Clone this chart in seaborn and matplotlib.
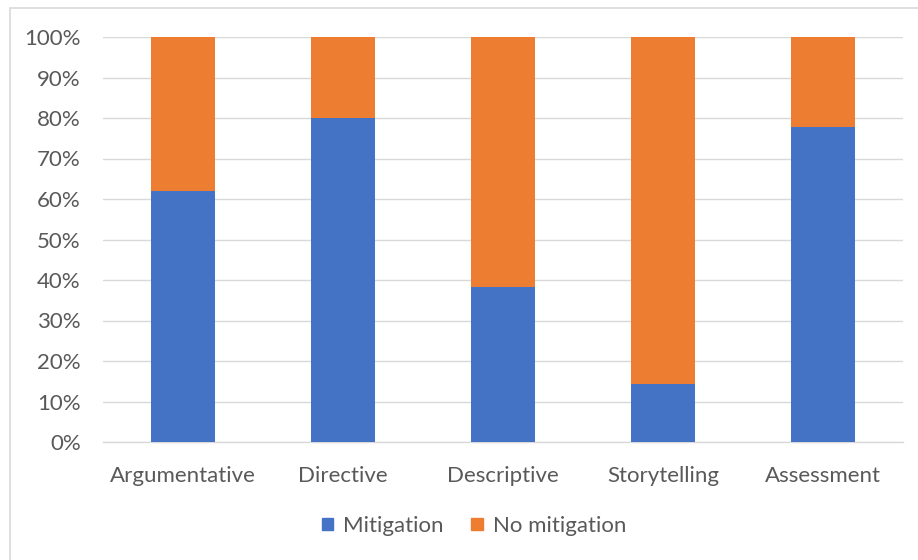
import matplotlib
matplotlib.use("Agg")
import matplotlib.pyplot as plt
import matplotlib.patches as mpatches
import seaborn as sns
import pandas as pd

categories = ["Argumentative", "Directive", "Descriptive", "Storytelling", "Assessment"]
mitigation = [61.9, 80.0, 38.3, 14.3, 77.8]
no_mitigation = [100 - v for v in mitigation]
y_ticks = list(range(0, 101, 10))
y_tick_labels = [f"{t}%" for t in y_ticks]

BLUE = "#4472C4"
ORANGE = "#ED7D31"
TEXT = "#595959"
GRID = "#D9D9D9"

sns.set_theme(style="white")
plt.rcParams["font.family"] = ["Lato", "DejaVu Sans"]
FS = 16

df = pd.DataFrame({"category": categories, "Mitigation": mitigation,
                   "Total": [m + n for m, n in zip(mitigation, no_mitigation)]})

fig = plt.figure(figsize=(9.18, 5.6), dpi=100)
ax = fig.add_axes([103 / 918, 1 - 442 / 560, 800 / 918, 405 / 560])

# Stacked bars: draw the full height in orange, then the mitigation share in blue
sns.barplot(data=df, x="category", y="Total", color=ORANGE, width=0.4,
            saturation=1, ax=ax, zorder=3, linewidth=0)
sns.barplot(data=df, x="category", y="Mitigation", color=BLUE, width=0.4,
            saturation=1, ax=ax, zorder=3, linewidth=0)

ax.set_ylim(0, 100)
ax.set_xlim(-0.5, len(categories) - 0.5)
ax.set_yticks(y_ticks)
ax.set_yticklabels(y_tick_labels)
ax.yaxis.grid(True, color=GRID, linewidth=1, zorder=0)
ax.set_axisbelow(True)
for side in ["top", "right", "left"]:
    ax.spines[side].set_visible(False)
ax.spines["bottom"].set_color(GRID)
ax.spines["bottom"].set_linewidth(1)
ax.set_xlabel("")
ax.set_ylabel("")
ax.tick_params(axis="both", length=0, labelsize=FS, colors=TEXT)
ax.tick_params(axis="x", pad=17)
ax.tick_params(axis="y", pad=16)

handles = [mpatches.Patch(color=BLUE, label="Mitigation"),
           mpatches.Patch(color=ORANGE, label="No mitigation")]
leg = fig.legend(handles=handles, loc="center", bbox_to_anchor=(474 / 918, 1 - 526 / 560),
                 ncol=2, frameon=False, fontsize=FS, handlelength=0.5,
                 handleheight=0.5, handletextpad=0.45, columnspacing=1.25)
for t in leg.get_texts():
    t.set_color(TEXT)

# Chart frame (left and top edges visible within the canvas)
fig.patches.append(mpatches.Rectangle((9.5 / 918, -10 / 560), 930 / 918, 562 / 560,
                                      transform=fig.transFigure, fill=False,
                                      edgecolor=GRID, linewidth=1.2))

fig.savefig("out.png", dpi=100)
